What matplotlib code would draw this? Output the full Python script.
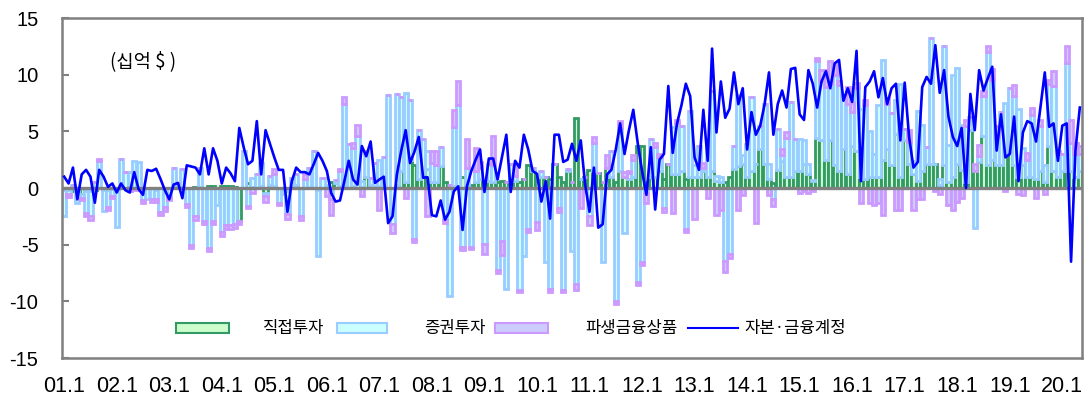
import numpy as np
import matplotlib
matplotlib.use("Agg")
import matplotlib.pyplot as plt
from matplotlib.patches import Rectangle
from matplotlib.lines import Line2D

# Monthly flows, Jan 2001 - May 2020 (billion USD)
tick_labels = ["01.1", "02.1", "03.1", "04.1", "05.1", "06.1", "07.1", "08.1", "09.1", "10.1",
               "11.1", "12.1", "13.1", "14.1", "15.1", "16.1", "17.1", "18.1", "19.1", "20.1"]

series_names = ["직접투자", "증권투자", "파생금융상품", "자본·금융계정"]

direct_inv = [
    -0.2, -0.2, -0.3, -0.3, -0.5, -0.3, -0.3, -0.2, 0.0, -0.2, -0.2, -0.1,
    -0.1, 0.1, 0.0, 0.0, 0.0, 0.0, -0.2, 0.0, 0.0, -0.2, 0.0, 0.0,
    0.0, 0.1, 0.1, 0.1, 0.0, 0.0, 0.1, 0.1, 0.0, 0.2, 0.2, 0.0,
    0.2, 0.2, 0.2, 0.1, -2.9, 0.0, 0.4, 0.1, 0.0, 0.2, -0.4, 0.3,
    0.2, 0.0, -0.3, -0.3, 0.1, 0.3, 0.0, 0.0, 0.0, 0.0, -0.2, 0.0,
    0.0, 0.5, 0.4, 0.2, 0.2, 0.0, 0.2, 0.5, 0.1, 1.0, 0.3, 0.2,
    0.2, 0.3, 0.0, 0.0, 0.3, 1.5, 0.5, 2.5, 2.0, 0.8, 1.2, 1.7,
    0.5, 0.5, 1.9, 0.5, 0.3, 0.2, 0.2, 1.0, 0.3, 0.3, 0.5, 0.8,
    0.5, 0.6, 0.5, 0.5, 0.6, 0.5, 0.6, 0.6, 0.5, 0.8, 2.0, 1.5,
    1.0, 1.0, 1.0, 0.8, 2.1, 1.0, 0.5, 1.5, 0.5, 6.2, 0.8, 1.0,
    1.6, 1.5, 1.3, 0.5, 1.8, 1.0, 0.5, 1.5, 1.0, 0.8, 1.0, 3.7,
    3.7, 0.5, 1.0, 1.0, 1.5, 0.8, 2.1, 1.2, 1.2, 1.5, 0.8, 1.0,
    1.0, 1.0, 1.5, 1.0, 1.5, 0.6, 0.5, 0.5, 1.0, 1.7, 1.9, 2.1,
    1.0, 1.5, 2.1, 3.4, 2.1, 0.8, 0.4, 1.6, 2.4, 1.0, 1.0, 1.5,
    1.5, 2.1, 1.2, 0.6, 4.4, 4.2, 2.5, 4.2, 2.0, 1.5, 3.4, 1.2,
    3.7, 3.3, 1.0, 0.8, 1.0, 1.0, 1.0, 2.5, 3.4, 2.0, 4.8, 1.0,
    4.2, 2.1, 1.2, 0.6, 1.5, 2.1, 2.1, 2.1, 0.3, 2.0, 0.5, 1.0,
    2.1, 1.6, 0.5, 5.1, 1.5, 2.3, 4.6, 2.0, 2.5, 2.0, 2.0, 3.0,
    3.4, 2.0, 1.0, 2.0, 1.0, 1.0, 0.8, 1.5, 0.5, 3.7, 1.5, 1.0,
    1.5, 1.5, 1.5, 1.0, 1.5,
]

portfolio_inv = [
    -2.3, -0.3, 0.3, -1.0, -0.4, -1.9, -2.2, 0.5, 2.4, -1.8, -1.5, -0.6,
    -3.3, 2.5, 1.4, 1.4, 2.4, 2.3, -0.9, -1.0, -1.0, -0.8, -2.1, -1.7,
    -0.8, 1.7, 0.3, 1.6, -1.4, -5.0, -2.5, 1.7, -2.9, -5.3, -2.9, -1.5,
    -3.9, -3.3, -3.3, -3.2, 0.0, 3.3, -1.6, 0.8, 1.2, 2.0, -0.3, 0.8,
    1.0, -1.3, -0.2, -2.0, 0.8, 0.9, -2.5, 0.8, 1.8, 3.3, -5.8, 0.9,
    0.3, -1.0, 0.3, 1.3, 7.2, 3.9, 3.3, 4.1, 0.5, 2.3, 0.6, 2.0,
    2.3, 2.4, 8.2, -3.2, 8.0, 6.5, 7.9, 5.3, -4.5, 4.3, 3.1, 1.6,
    1.7, 1.5, 1.7, -2.8, -9.5, 5.2, 7.1, -5.2, 1.5, -5.2, 1.0, 1.0,
    -4.9, 1.5, 1.5, -7.2, -4.7, -8.9, 1.5, 0.5, -9.0, -6.0, -3.6, 0.3,
    -3.0, 0.5, -6.5, -8.9, 0.0, -1.8, -9.0, 0.2, -5.6, -8.5, 0.0, -0.3,
    -2.5, 2.5, 0.0, -6.5, 0.0, 2.3, -10.0, 3.8, -4.0, 0.5, 1.5, -8.3,
    -6.5, -0.4, 3.3, 2.6, 1.2, -1.8, 0.0, 4.2, 4.5, 4.0, -3.6, 5.8,
    1.0, 2.7, 0.3, 2.7, 7.1, 0.5, 0.5, -6.4, -5.8, 2.0, 6.3, 0.8,
    2.9, 6.5, 0.0, 2.1, 5.3, 1.3, -1.0, 3.6, 0.5, 3.4, 6.6, 2.8,
    2.8, 2.1, 0.9, 0.1, 6.8, 5.2, 6.4, 5.0, 8.0, 7.6, 4.8, 6.2,
    3.0, 5.5, 6.0, 6.5, 4.0, 2.0, 6.3, 8.8, 4.0, 4.6, 3.0, 8.2,
    1.0, 2.0, 1.2, 6.2, 4.1, 1.5, 11.1, 0.0, 0.5, 10.5, 3.3, 9.0,
    8.5, 4.0, 5.0, 1.2, -3.5, 0.5, 3.5, 10.0, 7.0, 2.5, 4.7, 4.5,
    5.4, 6.1, 6.0, 1.5, 1.5, 5.4, 3.5, 4.0, 1.5, 5.5, 7.5, 2.0,
    1.5, 9.5, 2.5, 2.0, 1.5,
]

derivatives = [
    0.0, -0.3, 0.0, 0.0, -0.2, -0.3, -0.3, 0.0, 0.2, 0.0, -0.2, -0.2,
    0.0, 0.0, 0.0, -0.3, -0.2, -0.2, -0.2, 0.0, -0.2, -0.2, -0.3, -0.3,
    -0.3, 0.0, 0.0, 0.0, -0.3, -0.3, -0.3, 0.0, -0.3, -0.3, -0.3, 0.0,
    -0.3, -0.3, -0.3, -0.3, -0.3, 0.0, -0.2, -0.4, 0.0, 0.0, -0.5, 0.0,
    0.5, -0.2, 0.0, -0.4, 0.0, 0.0, -0.3, 0.4, 0.0, 0.0, 0.0, 0.0,
    -0.7, -1.4, 0.0, 0.2, 0.6, 0.0, 0.5, 1.0, -0.7, 0.0, 0.0, 0.0,
    -1.9, 0.0, 0.0, -0.8, 0.0, 0.0, -0.9, 0.0, -0.3, 0.0, 0.0, -2.5,
    1.1, 1.3, 0.0, -0.3, 0.0, 1.5, 2.1, -0.3, 2.5, -0.2, 2.0, 0.5,
    -0.9, 0.0, 2.6, -0.3, -1.2, 0.0, 0.0, 1.0, -0.2, 0.0, -0.3, 0.0,
    -0.7, 0.0, 0.0, -0.3, 0.0, -0.3, -0.2, 0.0, 0.0, -0.5, -1.8, 0.0,
    -0.8, 0.5, 0.0, 0.0, 1.1, 0.0, -0.2, 0.6, 0.4, 0.2, 0.4, -0.3,
    -0.3, -0.9, 0.0, 0.4, 0.3, -0.3, 0.0, -2.2, 0.3, 0.0, -0.3, 0.0,
    -2.7, 0.0, 0.4, -0.9, 0.0, -2.4, -1.9, -1.0, -0.4, 0.0, -1.9, -0.6,
    0.0, 0.0, -3.1, 0.0, 0.0, -0.6, -0.6, 0.0, 0.5, 0.5, 0.0, 0.0,
    -0.4, -0.3, -0.4, -0.3, 0.3, 1.0, 1.5, 2.0, 1.0, 0.3, 0.0, 1.5,
    0.8, 0.5, -1.3, 0.5, -1.3, -1.5, -1.3, -2.4, 0.5, 0.0, -1.9, -1.9,
    0.0, 1.0, -1.9, -1.0, -1.0, 0.0, 0.0, -0.3, -0.5, 0.0, -1.5, -1.9,
    -1.2, -0.9, 0.5, 0.0, 0.6, 1.0, 0.5, 0.5, 1.0, 1.0, 0.0, -0.3,
    0.0, 1.0, -0.5, -0.6, 0.6, 0.7, -0.9, 0.5, -0.5, 0.3, 1.3, 0.3,
    0.0, 1.5, 2.0, 1.0, 0.7,
]

capital_fin = [
    1.0, 0.4, 1.8, -1.0, 1.2, 1.6, 1.0, -1.3, 1.6, 1.0, 0.1, 0.4,
    -0.4, 0.4, -0.2, -0.4, 1.4, -0.1, -0.6, 1.6, 1.5, 1.7, 0.8, -0.2,
    -1.0, 0.3, 0.45, -0.9, 2.0, 1.9, 1.8, 1.2, 3.5, 1.2, 3.5, 2.4,
    0.4, 1.8, 1.3, 0.6, 5.3, 3.6, 2.1, 2.4, 5.9, 1.2, 5.1, 3.9,
    2.7, 1.6, 1.6, -2.1, 0.6, 1.8, 1.4, 1.4, 1.2, 2.1, 3.1, 2.4,
    1.5, -0.45, -1.2, -1.1, 0.6, 2.4, 0.75, 0.3, 3.7, 2.8, 4.1, 0.45,
    0.75, 1.0, -3.1, -2.5, 1.2, 3.3, 5.1, 2.2, 3.2, 4.5, 0.9, 0.95,
    -2.4, -2.5, -1.1, -2.8, -2.1, -0.3, 0.15, -3.7, 0.15, 1.5, 2.5, 3.4,
    -0.35, 2.6, 2.6, 0.75, 2.7, 4.7, -0.35, 2.4, 1.8, 4.7, 3.4, 1.5,
    1.25, -1.2, 0.6, -2.7, 4.7, 4.7, 2.3, 2.5, 3.9, 2.4, 4.2, 0.3,
    -2.1, 1.8, -3.5, -3.2, 1.2, 1.6, 3.4, 5.7, 3.0, 5.1, 6.9, 4.0,
    1.5, -0.6, 3.6, -1.9, 2.5, 3.0, 9.0, 3.1, 5.7, 7.3, 9.2, 8.1,
    2.7, 1.6, 6.9, 2.4, 12.3, 4.9, 9.4, 6.2, 7.0, 10.2, 7.4, 8.8,
    3.4, 6.7, 4.7, 5.5, 7.4, 10.2, 4.7, 7.4, 8.6, 7.1, 10.5, 10.6,
    6.5, 6.0, 10.4, 9.2, 7.1, 9.4, 10.3, 8.8, 11.0, 11.3, 7.7, 8.8,
    7.6, 12.1, 0.6, 8.9, 9.4, 10.3, 8.0, 9.7, 7.4, 8.8, 9.2, 4.2,
    9.3, 4.5, 1.8, 2.3, 8.9, 9.8, 9.2, 12.6, 8.4, 10.4, 6.3, 4.5,
    3.7, 5.3, 0.0, 8.3, 5.1, 10.4, 8.6, 9.7, 10.7, 3.3, 6.5, 2.7,
    3.0, 6.3, 0.6, 4.9, 5.9, 5.7, 4.1, 7.1, 10.2, 5.4, 5.7, 2.4,
    5.5, 5.7, -6.5, 3.3, 7.1,
]

W, H = 1085, 397
fig = plt.figure(figsize=(W / 100, H / 100), dpi=100)
ax = fig.add_axes([62 / W, 1 - 358 / H, (1082 - 62) / W, (358 - 18) / H])

n = len(capital_fin)
x = np.arange(n)

bar_styles = [
    (direct_inv, "#CCFFCC", "#339966"),
    (portfolio_inv, "#CCFFFF", "#99CCFF"),
    (derivatives, "#CCCCFF", "#CC99FF"),
]

# stacked columns: positives build upward, negatives build downward
pos_base = np.zeros(n)
neg_base = np.zeros(n)
for vals, face, edge in bar_styles:
    v = np.asarray(vals, dtype=float)
    bottom = np.where(v >= 0, pos_base, neg_base)
    ax.bar(x, v, width=0.95, bottom=bottom, color=face, edgecolor=edge,
           linewidth=2.0, zorder=2)
    pos_base += np.clip(v, 0, None)
    neg_base += np.clip(v, None, 0)

ax.axhline(0, color="#808080", linewidth=2.4, zorder=3)
ax.plot(x, capital_fin, color="#0000FF", linewidth=1.9, zorder=4)

ax.set_xlim(-0.5, n - 0.5)
ax.set_ylim(-15, 15)
ax.set_yticks(np.arange(-15, 16, 5))
ax.set_yticklabels([str(v) for v in range(-15, 16, 5)])
ax.set_xticks(np.arange(0, n, 12))
ax.set_xticklabels(tick_labels)

for s in ax.spines.values():
    s.set_color("#808080")
    s.set_linewidth(1.8)

ax.tick_params(axis="y", direction="in", length=5, width=1.5, color="#808080",
               pad=17, labelsize=14.5)
ax.tick_params(axis="x", length=0, pad=13, labelsize=15.5)
for lab in ax.get_xticklabels() + ax.get_yticklabels():
    lab.set_family(["Liberation Sans", "DejaVu Sans"])
    lab.set_color("black")

kr = ["Noto Sans CJK KR", "DejaVu Sans"]
ax.text(110 / W, 1 - 62 / H, "(십억 $ )", transform=fig.transFigure, family=kr,
        fontsize=13.5, va="center", ha="left")

# legend row drawn along the bottom of the plot area
ly = 328
key_h = 10
keys = [
    (176, 229, "#CCFFCC", "#339966", 263),
    (337, 387, "#CCFFFF", "#99CCFF", 424),
    (495, 548, "#CCCCFF", "#CC99FF", 585),
]
for (x0, x1, face, edge, tx), name in zip(keys, series_names[:3]):
    fig.add_artist(Rectangle((x0 / W, 1 - (ly + key_h / 2) / H), (x1 - x0) / W, key_h / H,
                             transform=fig.transFigure, facecolor=face, edgecolor=edge,
                             linewidth=1.5))
    fig.text(tx / W, 1 - ly / H, name, family=kr, fontsize=12, va="center", ha="left")
fig.add_artist(Line2D([688 / W, 738 / W], [1 - ly / H, 1 - ly / H], transform=fig.transFigure,
                      color="#0000FF", linewidth=1.5))
fig.text(744 / W, 1 - ly / H, series_names[3], family=kr, fontsize=12, va="center", ha="left")

fig.savefig("out.png", dpi=100)
